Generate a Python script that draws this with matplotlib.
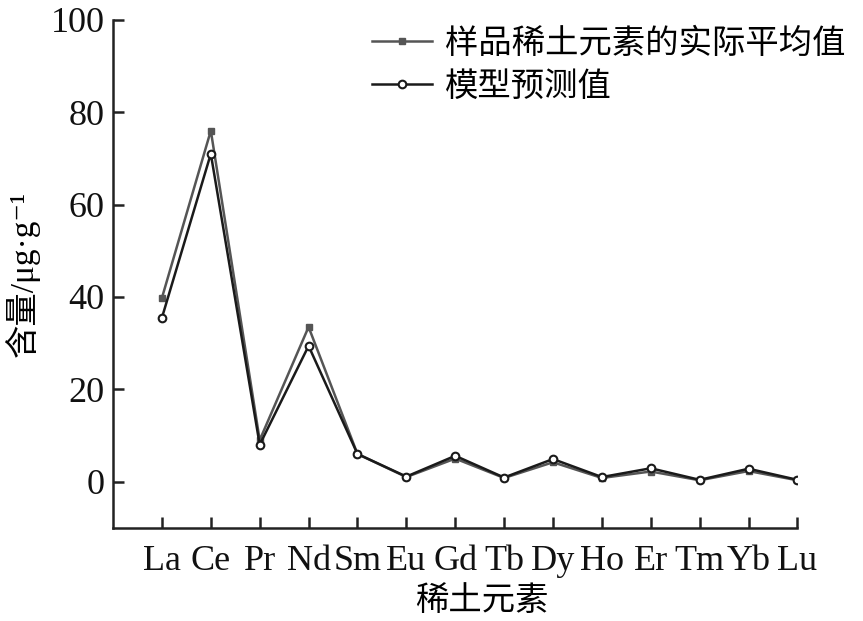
import matplotlib
matplotlib.use('Agg')
import matplotlib.pyplot as plt

plt.rcParams['font.family'] = ['Liberation Serif', 'Noto Sans CJK SC', 'DejaVu Sans']
plt.rcParams['axes.unicode_minus'] = False

# data
elements = ['La', 'Ce', 'Pr', 'Nd', 'Sm', 'Eu', 'Gd', 'Tb', 'Dy', 'Ho', 'Er', 'Tm', 'Yb', 'Lu']
actual = [39.8, 76.0, 9.0, 33.5, 6.0, 1.0, 5.0, 0.8, 4.2, 0.8, 2.2, 0.3, 2.3, 0.3]
predicted = [35.5, 71.0, 8.0, 29.4, 6.0, 1.1, 5.6, 0.9, 4.9, 1.0, 2.9, 0.4, 2.8, 0.4]
yticks = [0, 20, 40, 60, 80, 100]

fig = plt.figure(figsize=(8.63, 6.21), dpi=100)
ax = fig.add_axes([0.131, 0.150, 0.793, 0.818])

x = list(range(1, len(elements) + 1))
ax.plot(x, actual, color='#555555', lw=1.8, marker='s', ms=5,
        mfc='#555555', mec='#555555', label='样品稀土元素的实际平均值')
ax.plot(x, predicted, color='#1a1a1a', lw=1.8, marker='o', ms=5.5,
        mfc='white', mec='#1a1a1a', mew=1.5, label='模型预测值')

ax.set_xlim(0, 14)
ax.set_ylim(-10, 100)
ax.set_xticks(x)
ax.set_xticklabels(elements)
ax.set_yticks(yticks)

for s in ['top', 'right']:
    ax.spines[s].set_visible(False)
for s in ['left', 'bottom']:
    ax.spines[s].set_linewidth(1.8)
    ax.spines[s].set_color('#222222')
ax.tick_params(direction='in', length=8, width=1.8, color='#222222',
               labelsize=26, labelcolor='#111111')
ax.tick_params(axis='x', pad=12)
ax.tick_params(axis='y', pad=6)

ax.set_xlabel('稀土元素', fontsize=24)
ax.xaxis.set_label_coords(0.539, -0.114)
ax.set_ylabel('含量/μg·g⁻¹', fontsize=24, labelpad=8)

fig.legend(loc='upper right', bbox_to_anchor=(0.995, 0.975), frameon=False,
           fontsize=24, handlelength=1.8, handletextpad=0.4, labelspacing=0.35,
           borderaxespad=0)

fig.savefig('out.png', dpi=100)
